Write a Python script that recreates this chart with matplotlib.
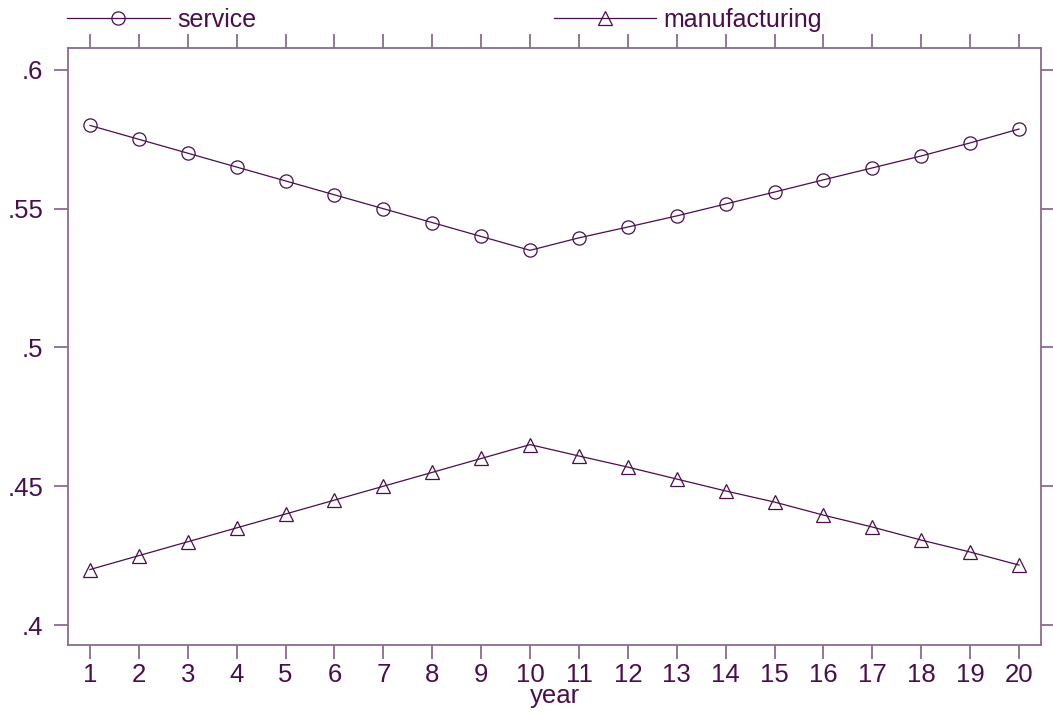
import matplotlib
matplotlib.use("Agg")
import matplotlib.pyplot as plt
from matplotlib.lines import Line2D

plt.rcParams['font.family'] = ['Liberation Sans', 'DejaVu Sans']

year = list(range(1, 21))
service = [0.580, 0.575, 0.570, 0.565, 0.560, 0.555, 0.550, 0.545, 0.540, 0.535,
           0.5395, 0.5434, 0.5474, 0.5517, 0.5560, 0.5604, 0.5647, 0.5690, 0.5737, 0.5787]
manufacturing = [0.420, 0.425, 0.430, 0.435, 0.440, 0.445, 0.450, 0.455, 0.460, 0.465,
                 0.4609, 0.4569, 0.4526, 0.4483, 0.4443, 0.4396, 0.4353, 0.4306, 0.4263, 0.4216]
yticks = [0.4, 0.45, 0.5, 0.55, 0.6]
ytick_labels = ['.4', '.45', '.5', '.55', '.6']

ink = '#4a0d4d'     # text and data lines
frame = '#8b6a8f'   # axis box and ticks
fs = 18.5

fig = plt.figure(figsize=(10.53, 7.14), dpi=100)
ax = fig.add_axes([68/1053, 1 - 645/714, (1041 - 68)/1053, (645 - 48)/714])

ax.plot(year, service, color=ink, lw=0.9, marker='o', ms=9.5,
        mfc='none', mec=ink, mew=0.9, label='service')
ax.plot(year, manufacturing, color=ink, lw=0.9, marker='^', ms=9.5,
        mfc='none', mec=ink, mew=0.9, label='manufacturing')

ax.set_xlim(0.55, 20.45)
ax.set_ylim(0.3928, 0.6079)
ax.set_xticks(year)
ax.set_yticks(yticks)
ax.set_yticklabels(ytick_labels)

for s in ax.spines.values():
    s.set_color(frame)
    s.set_linewidth(1.3)
ax.tick_params(axis='both', which='both', direction='out', length=10,
               width=1.3, color=frame, labelcolor=ink, labelsize=fs,
               top=True, right=True, labeltop=False, labelright=False)
ax.tick_params(axis='y', pad=8)
ax.tick_params(axis='x', pad=3)

ax.set_xlabel('year', color=ink, fontsize=fs, labelpad=-2)

# legend sits above the plot box, two entries on one row
lfs = 18
handles = [
    Line2D([], [], color=ink, lw=0.9, marker='o', ms=9.5, mfc='none', mec=ink, mew=0.9),
    Line2D([], [], color=ink, lw=0.9, marker='^', ms=9.5, mfc='none', mec=ink, mew=0.9),
]
leg = fig.legend(handles, ['service', 'manufacturing'], ncol=2, loc='upper left',
                 bbox_to_anchor=(67/1053, 0.9885), frameon=False,
                 fontsize=lfs, handlelength=4.1, handletextpad=0.3,
                 columnspacing=11.9, borderaxespad=0, borderpad=0.0)
for t in leg.get_texts():
    t.set_color(ink)

fig.savefig('out.png', dpi=100)
